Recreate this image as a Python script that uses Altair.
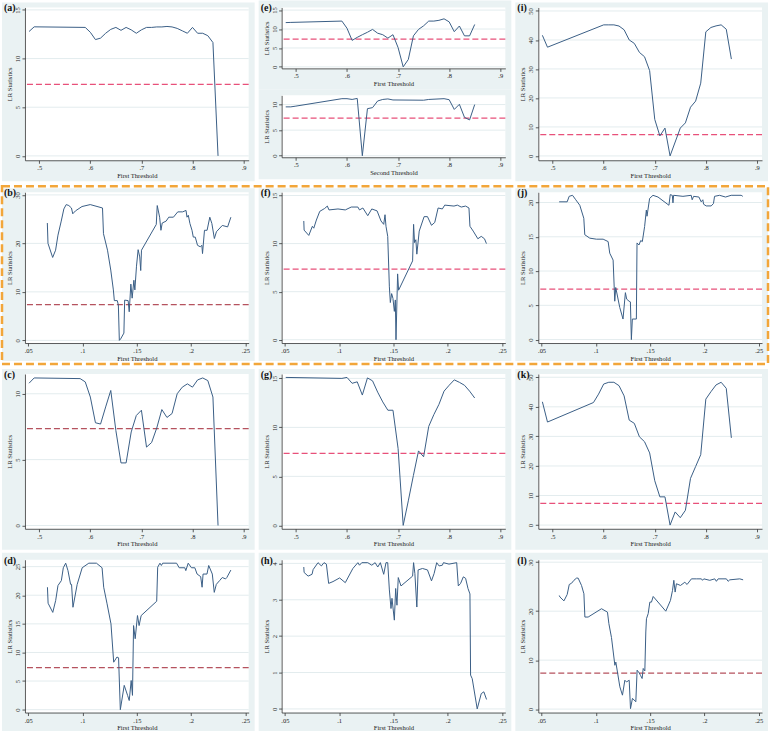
import altair as alt
import pandas as pd

# ---------------- data ----------------
a_x = [.48, .49, .59, .60, .61, .62, .63, .64, .65, .66, .67, .68, .69, .70, .71, .72, .73, .74, .75, .76, .77, .78, .79, .80, .81, .82, .83, .84, .85]
a_y = [12.78, 13.26, 13.2, 12.7, 11.95, 12.1, 12.6, 13.0, 13.2, 12.9, 13.2, 12.95, 12.6, 12.95, 13.2, 13.2, 13.25, 13.25, 13.3, 13.25, 13.1, 12.85, 12.6, 13.2, 12.6, 12.6, 12.35, 11.65, 0.0]

e1_x = [.48, .49, .59, .60, .61, .62, .63, .64, .65, .66, .67, .68, .69, .70, .71, .72, .73, .74, .75, .76, .77, .78, .79, .80, .81, .82, .83, .84, .85]
e1_y = [11.7, 11.75, 12.1, 10.2, 7.0, 7.8, 8.5, 9.15, 9.9, 8.9, 8.5, 7.6, 8.5, 5.1, 0.0, 1.95, 8.2, 9.9, 10.85, 12.1, 12.1, 12.3, 12.7, 11.9, 9.3, 10.8, 8.2, 8.2, 11.2]

e2_x = [.48, .49, .50, .59, .60, .61, .62, .63, .64, .65, .66, .67, .68, .69, .75, .76, .79, .80, .81, .82, .83, .84, .85]
e2_y = [9.55, 9.55, 9.7, 11.15, 11.15, 11.0, 11.2, 0.0, 9.2, 9.4, 10.7, 11.0, 11.1, 10.9, 10.85, 11.0, 11.15, 10.95, 9.05, 10.05, 7.5, 7.0, 10.0]

i_x = [.48, .49, .60, .61, .62, .63, .64, .65, .66, .67, .68, .69, .70, .71, .72, .73, .74, .75, .76, .77, .78, .79, .80, .81, .82, .83, .84, .85]
i_y = [41.6, 37.5, 45.2, 45.2, 45.2, 44.8, 43.5, 40.0, 38.8, 35.7, 34.2, 29.4, 12.6, 6.9, 9.6, 0.0, 4.8, 9.6, 11.4, 16.8, 18.9, 25.1, 42.8, 44.3, 44.85, 45.2, 43.7, 33.4]

b_x = [.0676, .0682, .0725, .0752, .0774, .0804, .0828, .085, .0874, .0898, .091, .0935, .0995, .1071, .1184, .1193, .123, .126, .1284, .1293, .132, .133, .1339, .1351, .1381, .1388, .142, .143, .1445, .1457, .1473, .1482, .1497, .1512, .1527, .1536, .1543, .1679, .1688, .171, .1722, .1734, .177, .1794, .1837, .1877, .1922, .1953, .1962, .1974, .1989, .2008, .202, .2038, .2059, .2084, .2099, .2105, .2123, .2147, .2172, .2191, .2214, .2233, .2287, .2336, .2366]
b_y = [24.2, 20.0, 17.1, 18.6, 21.7, 24.6, 27.1, 28.0, 27.8, 27.3, 26.1, 26.7, 27.6, 28.0, 27.3, 22.0, 18.6, 14.5, 10.4, 8.2, 8.2, 7.3, 0.0, 0.3, 1.5, 8.3, 8.2, 5.9, 11.6, 8.7, 12.4, 10.4, 15.3, 18.7, 17.2, 14.4, 18.6, 23.9, 27.8, 25.4, 22.7, 24.2, 24.6, 25.4, 25.4, 26.5, 26.5, 26.8, 25.4, 25.8, 24.1, 22.7, 21.3, 21.3, 19.6, 19.3, 19.6, 17.9, 22.7, 22.7, 25.4, 24.1, 21.0, 22.4, 23.7, 23.4, 25.4]

f_x = [.0674, .0677, .072, .0753, .0766, .079, .0821, .0866, .0891, .0906, .0989, .1056, .1111, .1172, .1187, .1218, .1263, .13, .1349, .1385, .141, .1422, .1431, .1447, .1462, .1471, .1483, .1495, .1508, .1517, .1523, .1538, .1547, .1676, .1685, .1694, .1706, .1715, .1737, .1782, .1813, .185, .188, .1911, .195, .1972, .2057, .2088, .2124, .2164, .2195, .2204, .2234, .2277, .2308, .2338, .2356]
f_y = [12.35, 11.4, 10.85, 11.8, 11.6, 12.45, 13.35, 13.65, 13.9, 13.5, 13.6, 13.5, 13.8, 13.8, 13.5, 13.7, 12.9, 13.6, 13.4, 12.35, 12.0, 13.0, 11.8, 10.75, 5.5, 3.87, 4.8, 4.3, 2.95, 4.14, 0.0, 6.85, 5.15, 8.2, 12.0, 10.1, 10.4, 8.9, 11.3, 12.8, 12.8, 11.9, 12.2, 13.7, 13.6, 14.0, 13.9, 14.0, 13.8, 13.9, 13.7, 11.8, 11.3, 10.5, 10.75, 10.5, 10.0]

j_x = [.0662, .0736, .0754, .0785, .0815, .0852, .0889, .0898, .0944, .1005, .1067, .1113, .1128, .1159, .1174, .1183, .122, .125, .1272, .1284, .1306, .1318, .1327, .1336, .1373, .1379, .1397, .1413, .1428, .1449, .1465, .1471, .1495, .1526, .1572, .1673, .1685, .1704, .171, .1716, .1802, .1878, .1887, .19, .1949, .197, .1985, .1992, .2016, .2062, .2083, .2093, .2139, .2194, .2246, .2338, .2353]
j_y = [20.1, 20.1, 20.9, 21.05, 20.4, 19.6, 17.7, 15.3, 14.8, 14.65, 14.65, 14.3, 12.6, 11.6, 5.6, 7.6, 4.7, 3.0, 6.85, 5.9, 5.6, 5.5, 0.0, 3.0, 3.0, 14.1, 13.8, 14.45, 14.3, 16.5, 18.9, 18.0, 20.6, 21.05, 20.8, 19.6, 21.15, 21.05, 19.95, 21.05, 20.9, 21.05, 20.4, 20.9, 20.8, 20.1, 20.4, 19.75, 19.5, 19.5, 19.85, 20.9, 21.05, 20.8, 21.05, 21.05, 20.9]

c_x = [.48, .49, .58, .59, .60, .61, .62, .63, .64, .65, .66, .67, .68, .69, .70, .71, .72, .73, .74, .75, .76, .77, .78, .79, .80, .81, .82, .83, .84, .85]
c_y = [10.8, 11.2, 11.15, 10.9, 9.75, 7.8, 7.7, 9.0, 10.25, 7.2, 4.75, 4.75, 7.1, 8.35, 8.75, 5.95, 6.3, 7.4, 8.8, 8.2, 8.5, 10.0, 10.5, 10.75, 10.5, 11.05, 11.2, 11.0, 9.75, 0.0]

g_x = [.48, .59, .60, .61, .62, .63, .64, .65, .66, .67, .68, .69, .70, .71, .72, .73, .74, .75, .76, .77, .78, .79, .80, .81, .82, .83, .84, .85]
g_y = [15.1, 15.0, 15.1, 14.5, 14.65, 13.3, 15.05, 14.75, 13.6, 12.6, 11.75, 11.75, 7.85, 0.0, 2.5, 5.1, 7.6, 7.0, 10.1, 11.3, 12.35, 13.7, 14.3, 14.85, 14.6, 14.3, 13.7, 13.0]

k_x = [.48, .49, .58, .59, .60, .61, .62, .63, .64, .65, .66, .67, .68, .69, .70, .71, .72, .73, .74, .75, .76, .77, .78, .79, .80, .81, .82, .83, .84, .85]
k_y = [41.7, 34.85, 41.45, 44.3, 47.7, 48.3, 48.3, 47.15, 43.7, 35.5, 34.4, 29.85, 28.2, 24.4, 15.0, 9.55, 9.55, 0.0, 4.45, 2.5, 5.0, 15.8, 19.8, 23.8, 42.6, 45.1, 47.4, 48.3, 46.25, 29.5]

d_x = [.0677, .0683, .0726, .0753, .0774, .0805, .0823, .0845, .0866, .089, .0899, .0912, .0951, .0997, .1058, .1128, .118, .1195, .1226, .1262, .1287, .1317, .1332, .1348, .1384, .1415, .143, .1448, .146, .147, .1485, .1506, .1521, .154, .1683, .1692, .1713, .1726, .1738, .1866, .189, .1942, .1951, .1973, .2003, .2034, .2055, .2088, .2101, .211, .2146, .2162, .2195, .2213, .2232, .2262, .2287, .2317, .2329, .2366]
d_y = [21.4, 18.6, 17.0, 19.1, 21.7, 22.55, 24.8, 25.6, 24.3, 21.9, 21.9, 17.9, 21.9, 24.8, 25.6, 25.6, 24.8, 21.4, 18.5, 15.0, 8.3, 9.2, 9.07, 0.0, 4.25, 2.5, 1.6, 5.1, 2.5, 14.7, 12.4, 16.45, 14.7, 16.45, 18.95, 24.9, 25.6, 25.2, 25.6, 25.6, 24.8, 24.8, 24.3, 25.6, 24.8, 24.8, 23.7, 23.25, 21.4, 23.7, 23.7, 25.2, 23.7, 20.5, 21.9, 22.55, 23.1, 22.85, 23.1, 24.4]

h_x = [.0674, .0677, .0714, .075, .076, .0805, .0836, .086, .0882, .0903, .0943, .1004, .1056, .1126, .1172, .1187, .1208, .1263, .13, .1331, .1355, .1379, .141, .1431, .1447, .1462, .1477, .1486, .1508, .152, .1532, .1544, .1569, .1676, .1685, .1697, .1715, .1727, .1767, .1813, .185, .1874, .1898, .192, .195, .196, .2011, .2082, .2097, .2118, .2143, .2164, .2186, .2204, .221, .2225, .2271, .2308, .2332, .2357]
h_y = [3.9, 3.75, 3.65, 3.7, 3.83, 4.02, 3.93, 4.02, 3.98, 3.45, 3.5, 3.6, 3.47, 3.86, 4.02, 3.95, 4.02, 4.02, 3.95, 4.02, 3.9, 4.02, 3.7, 4.02, 4.02, 3.27, 2.76, 3.04, 2.44, 3.31, 2.85, 3.61, 3.38, 3.65, 4.02, 3.72, 2.8, 3.82, 3.86, 3.82, 3.52, 3.72, 4.02, 3.93, 3.95, 4.02, 3.98, 4.02, 3.38, 3.45, 3.63, 3.59, 3.31, 3.16, 0.93, 0.83, 0.0, 0.42, 0.47, 0.26]

l_x = [.0663, .0669, .0706, .0736, .0755, .0776, .0798, .0822, .0837, .0868, .089, .0899, .0929, .1052, .1107, .112, .1144, .1175, .1184, .1221, .1245, .1267, .1282, .1307, .1319, .1337, .1368, .138, .1399, .1411, .1426, .1436, .1451, .146, .1466, .1482, .1497, .1512, .1528, .1644, .1687, .1706, .1718, .173, .1742, .1779, .1819, .184, .188, .1926, .1972, .1982, .1994, .2049, .2095, .211, .2126, .2202, .2218, .2233, .2325, .2356]
l_y = [23.2, 22.9, 22.1, 23.4, 25.45, 25.7, 26.3, 26.75, 26.75, 25.25, 23.55, 18.8, 18.8, 20.5, 19.8, 17.45, 14.6, 8.95, 9.6, 4.55, 2.85, 5.9, 5.55, 5.9, 0.1, 2.2, 1.5, 7.95, 7.4, 6.9, 6.25, 8.3, 7.8, 15.75, 18.45, 19.5, 21.85, 21.85, 23.0, 20.0, 22.2, 24.25, 26.3, 23.9, 25.6, 25.25, 25.9, 25.45, 26.6, 26.6, 26.6, 26.3, 26.6, 26.3, 26.6, 26.1, 26.6, 26.6, 26.1, 26.4, 26.6, 26.4]

X_HI_TICKS = [0.5, 0.6, 0.7, 0.8, 0.9]
X_LO_TICKS = [0.05, 0.1, 0.15, 0.2, 0.25]
CRIT = 7.35

# ---------------- styling ----------------
FONT = "Liberation Serif"
BLUE_BG = "#EAF2F3"
GRID = "#E3ECEE"
LINE = "#3A5E86"
PINK = "#E8507A"
DARKRED = "#B5525E"
ORANGE = "#F2A63A"
AXIS_C = "#333333"

W = 224
LM, RM = 23, 6
GAP = 4
RECT_W = LM + W + RM

X_HI_DOM = [0.472, 0.91]
X_LO_DOM = [0.047, 0.253]


def panel(label, xs, ys, xdom, xticks, ydom, yticks, H, top, bottom,
          crit_color=PINK, xtitle="First Threshold", crit=CRIT, extra=None):
    df = pd.DataFrame({"x": xs, "y": ys})
    xscale = alt.Scale(domain=xdom, zero=False, nice=False)
    yscale = alt.Scale(domain=ydom, zero=False, nice=False)
    common = dict(domainColor=AXIS_C, domainWidth=0.8, tickColor=AXIS_C, tickWidth=0.8,
                  tickSize=3, labelFont=FONT, labelFontSize=6.5, labelColor="#222",
                  titleFont=FONT, titleFontSize=6.6, titleFontWeight="normal",
                  titleColor="#222", grid=False, zindex=1)
    xaxis = alt.Axis(values=xticks, title=xtitle, labelPadding=1.5, titlePadding=1,
                     labelExpr="substring(format(datum.value, '.2~f'), 1)", **common)
    yaxis = alt.Axis(values=yticks, title="LR Statistics", labelAngle=270,
                     labelAlign="center", labelBaseline="bottom", labelPadding=1.5,
                     titlePadding=2, **common)
    one = alt.Data(values=[{"k": 0}])
    layers = [
        alt.Chart(one).mark_rect(fill=BLUE_BG).encode(
            x=alt.value(-LM), x2=alt.value(W + RM), y=alt.value(-top), y2=alt.value(H + bottom)),
        alt.Chart(one).mark_rect(fill="white").encode(
            x=alt.value(0), x2=alt.value(W), y=alt.value(0), y2=alt.value(H)),
        alt.Chart(pd.DataFrame({"t": yticks})).mark_rule(color=GRID, strokeWidth=1).encode(
            y=alt.Y("t:Q", scale=yscale, axis=yaxis)),
    ]
    if crit is not None:
        layers.append(alt.Chart(pd.DataFrame({"c": [crit]})).mark_rule(
            color=crit_color, strokeWidth=1.2, strokeDash=[6, 3]).encode(
            y=alt.Y("c:Q", scale=yscale, axis=yaxis)))
    layers.append(alt.Chart(df).mark_line(color=LINE, strokeWidth=1).encode(
        x=alt.X("x:Q", scale=xscale, axis=xaxis),
        y=alt.Y("y:Q", scale=yscale, axis=yaxis)))
    if label:
        layers.append(alt.Chart(one).mark_text(
            text=label, font=FONT, fontSize=10, fontWeight="bold", align="left",
            baseline="alphabetic", color="#111").encode(x=alt.value(-21), y=alt.value(4)))
    if extra is not None:
        layers.append(extra)
    return alt.layer(*layers).properties(width=W, height=H)


# Row 1
pa = panel("(a)", a_x, a_y, X_HI_DOM, X_HI_TICKS, [-0.45, 15.25], [0, 5, 10, 15], 153, 5, 21)
pe1 = panel("(e)", e1_x, e1_y, X_HI_DOM, X_HI_TICKS, [-0.4, 15.7], [0, 5, 10, 15], 61, 7, 21)
pe2 = panel(None, e2_x, e2_y, X_HI_DOM, X_HI_TICKS, [-0.3, 11.8], [0, 5, 10], 62, 6, 22,
            xtitle="Second Threshold")
pi = panel("(i)", i_x, i_y, X_HI_DOM, X_HI_TICKS, [-1.5, 51.2], [0, 10, 20, 30, 40, 50], 153, 5, 21)

# Row 2 (highlighted with orange dashed frame)
H2 = 151
box = alt.Chart(alt.Data(values=[{"k": 0}])).mark_rect(
    fill=None, stroke=ORANGE, strokeWidth=2.5, strokeDash=[8, 4]).encode(
    x=alt.value(-(2 * (RECT_W + GAP)) - LM), x2=alt.value(W + RM),
    y=alt.value(-6), y2=alt.value(H2 + 21))
pb = panel("(b)", b_x, b_y, X_LO_DOM, X_LO_TICKS, [-0.55, 30.55], [0, 10, 20, 30], H2, 4, 18,
           crit_color=DARKRED)
pf = panel("(f)", f_x, f_y, X_LO_DOM, X_LO_TICKS, [-0.34, 15.34], [0, 5, 10, 15], H2, 4, 18)
pj = panel("(j)", j_x, j_y, X_LO_DOM, X_LO_TICKS, [-0.5, 21.5], [0, 5, 10, 15, 20], H2, 4, 18,
           extra=box)

# Row 3
pc = panel("(c)", c_x, c_y, X_HI_DOM, X_HI_TICKS, [-0.25, 11.5], [0, 5, 10], 155, 5, 21,
           crit_color=DARKRED)
pg = panel("(g)", g_x, g_y, X_HI_DOM, X_HI_TICKS, [-0.35, 15.45], [0, 5, 10, 15], 155, 5, 21)
pk = panel("(k)", k_x, k_y, X_HI_DOM, X_HI_TICKS, [-1.25, 51.1], [0, 10, 20, 30, 40, 50], 155, 5, 21)

# Row 4
pd_ = panel("(d)", d_x, d_y, X_LO_DOM, X_LO_TICKS, [-0.5, 26.2], [0, 5, 10, 15, 20, 25], 153, 7, 21,
            crit_color=DARKRED)
ph = panel("(h)", h_x, h_y, X_LO_DOM, X_LO_TICKS, [-0.1, 4.1], [0, 1, 2, 3, 4], 153, 7, 21, crit=None)
pl = panel("(l)", l_x, l_y, X_LO_DOM, X_LO_TICKS, [-0.7, 30.5], [0, 10, 20, 30], 153, 7, 21,
           crit_color=DARKRED)

row1 = alt.hconcat(pa, alt.vconcat(pe1, pe2, spacing=0), pi, spacing=GAP)
row2 = alt.hconcat(pb, pf, pj, spacing=RECT_W + GAP - W, bounds="flush")
row3 = alt.hconcat(pc, pg, pk, spacing=GAP)
row4 = alt.hconcat(pd_, ph, pl, spacing=GAP)

chart = alt.vconcat(row1, row2, row3, row4, spacing=3).properties(
    padding=0, background="white").configure_view(stroke=None)

chart.save("out.html", embed_options={"renderer": "svg", "actions": False})
